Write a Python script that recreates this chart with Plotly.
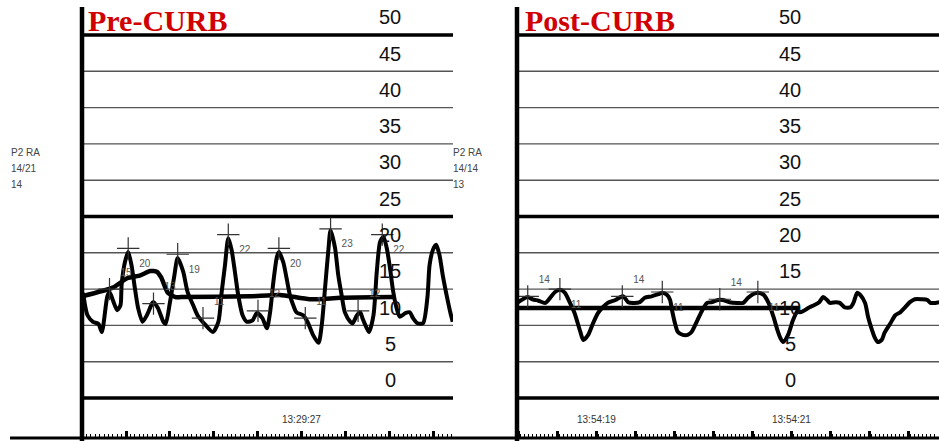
import plotly.graph_objects as go

# ---------------- data (time in s, pressure in mmHg) ----------------
pre_t = [0.01, 0.05, 0.10, 0.15, 0.18, 0.23, 0.25, 0.28, 0.32, 0.35, 0.36, 0.39, 0.42, 0.45, 0.48,
         0.51, 0.55, 0.59, 0.64, 0.65, 0.69, 0.74, 0.76, 0.80, 0.84, 0.87, 0.92, 0.96, 1.01, 1.05,
         1.12, 1.19, 1.24, 1.27, 1.30, 1.33, 1.36, 1.39, 1.42, 1.46, 1.50, 1.55, 1.59, 1.64, 1.68,
         1.71, 1.74, 1.77, 1.79, 1.83, 1.86, 1.89, 1.92, 1.95, 2.01, 2.05, 2.10, 2.15, 2.18, 2.21,
         2.24, 2.26, 2.30, 2.33, 2.36, 2.39, 2.44, 2.46, 2.50, 2.53, 2.55, 2.59, 2.61, 2.65, 2.68,
         2.71, 2.74, 2.77, 2.80, 2.83, 2.86, 2.89, 2.94, 2.98, 3.01, 3.05, 3.10, 3.14, 3.16, 3.19,
         3.22, 3.25, 3.28, 3.32, 3.35, 3.37]
pre_p = [14.5, 11.4, 10.5, 10.2, 9.1, 14.0, 14.6, 13.5, 12.1, 12.8, 15.6, 18.7, 20.1, 18.3, 15.2,
         12.4, 10.5, 11.4, 13.1, 13.2, 12.4, 10.5, 10.2, 13.2, 16.9, 19.3, 17.4, 14.6, 12.8, 11.4,
         10.1, 9.1, 10.5, 14.6, 18.3, 22.0, 20.4, 17.4, 14.2, 11.4, 10.5, 10.7, 11.7, 11.0, 9.6,
         11.8, 16.0, 19.3, 20.1, 18.7, 16.5, 14.2, 12.8, 11.8, 11.4, 10.5, 8.7, 7.6, 10.1, 15.2,
         20.4, 23.1, 20.7, 16.9, 14.2, 11.8, 10.5, 10.3, 11.4, 11.8, 11.0, 9.6, 9.1, 11.4, 17.4,
         21.5, 22.2, 20.7, 17.9, 14.6, 12.4, 11.2, 11.7, 11.8, 11.0, 10.3, 10.3, 13.8, 18.3, 20.4,
         21.1, 19.7, 16.9, 13.8, 11.7, 10.5]

pre_mean_t = [0.00, 0.28, 0.41, 0.53, 0.62, 0.68, 0.72, 0.78, 0.85, 0.90, 1.53, 1.80, 2.07, 2.35, 2.83]
pre_mean_p = [14.0, 15.2, 16.5, 16.9, 17.5, 17.4, 16.6, 14.5, 13.9, 13.9, 14.0, 14.2, 13.6, 13.8, 13.9]

pre_mark_t = [0.25, 0.42, 0.65, 0.87, 1.10, 1.33, 1.60, 1.79, 2.03, 2.26, 2.51, 2.73]
pre_mark_p = [15, 20.6, 13, 19.8, 11, 22.5, 12, 20.6, 11, 23.3, 12, 22.5]
pre_mark_lbl = ["15", "20", "13", "19", "11", "22", "12", "20", "11", "23", "12", "22"]

post_t = [0.01, 0.06, 0.11, 0.16, 0.22, 0.29, 0.34, 0.39, 0.44, 0.49, 0.54, 0.59, 0.65, 0.68, 0.73,
          0.78, 0.83, 0.88, 0.93, 1.01, 1.06, 1.09, 1.14, 1.19, 1.26, 1.31, 1.38, 1.45, 1.49, 1.54,
          1.57, 1.59, 1.62, 1.65, 1.70, 1.75, 1.79, 1.85, 1.90, 1.95, 2.00, 2.06, 2.11, 2.18, 2.26,
          2.32, 2.37, 2.42, 2.47, 2.53, 2.58, 2.63, 2.67, 2.70, 2.73, 2.78, 2.83, 2.88, 2.90, 2.95,
          3.00, 3.05, 3.10, 3.14, 3.18, 3.21, 3.27, 3.31, 3.36, 3.42, 3.45, 3.49, 3.52, 3.57, 3.60,
          3.64, 3.67, 3.70, 3.74, 3.77, 3.83, 3.88, 3.93, 3.98, 4.03, 4.08, 4.15, 4.21, 4.24, 4.29,
          4.33]
post_p = [13.2, 13.6, 13.9, 13.6, 13.4, 13.1, 13.8, 14.6, 14.9, 14.5, 13.2, 11.7, 9.1, 8.0, 8.7,
          10.3, 11.7, 12.5, 13.1, 13.5, 13.9, 14.0, 13.2, 13.1, 13.2, 13.8, 14.0, 14.3, 14.5, 14.2,
          13.5, 12.1, 10.3, 9.1, 8.7, 8.7, 9.1, 10.7, 12.1, 13.1, 13.2, 13.5, 13.5, 13.2, 13.1,
          13.1, 13.8, 14.3, 14.5, 14.2, 13.1, 11.2, 9.4, 8.3, 7.7, 8.7, 10.7, 12.1, 11.8, 12.1,
          12.5, 12.8, 13.2, 13.9, 13.5, 13.1, 13.2, 13.1, 12.5, 12.5, 13.1, 14.5, 14.2, 13.1, 11.2,
          9.4, 8.3, 7.7, 8.0, 9.0, 10.3, 11.4, 11.8, 12.5, 13.2, 13.6, 13.6, 13.5, 13.1, 13.1,
          13.2]

post_mean_t = [0.00, 2.90]
post_mean_p = [12.4, 12.4]

post_mark_t = [0.11, 0.44, 1.08, 1.49, 2.08, 2.47]
post_mark_p = [14.0, 15.0, 14.0, 14.6, 13.6, 14.6]
post_mark_lbl = ["14", "11", "14", "11", "14", "11"]

grid_levels = [0, 5, 10, 15, 20, 25, 30, 35, 40, 45, 50]
thick_levels = [0, 25, 50]

pre_title = "Pre-CURB"
post_title = "Post-CURB"
pre_side = ["P2 RA", "14/21", "14"]
post_side = ["P2 RA", "14/14", "13"]
pre_stamp_t = [2.0]
pre_stamp_lbl = ["13:29:27"]
post_stamp_t = [0.82, 2.82]
post_stamp_lbl = ["13:54:19", "13:54:21"]

# ---------------- layout geometry ----------------
W, H = 939, 441
B = 4
PH = H - B
def px(x):
    return x / W
def py(y):
    return (H - B - y) / PH

NARROW = "Liberation Sans Narrow, Arial Narrow, Liberation Sans, Arial, sans-serif"

fig = go.Figure()

wave_line = dict(color="black", width=4, shape="spline", smoothing=0.7)
fig.add_trace(go.Scatter(x=pre_t, y=pre_p, mode="lines", line=wave_line, xaxis="x", yaxis="y",
                         hoverinfo="skip", showlegend=False))
fig.add_trace(go.Scatter(x=pre_mean_t, y=pre_mean_p, mode="lines",
                         line=dict(color="black", width=4.5, shape="spline", smoothing=0.5),
                         xaxis="x", yaxis="y", hoverinfo="skip", showlegend=False))
fig.add_trace(go.Scatter(x=post_t, y=post_p, mode="lines", line=wave_line, xaxis="x2", yaxis="y",
                         hoverinfo="skip", showlegend=False))
fig.add_trace(go.Scatter(x=post_mean_t, y=post_mean_p, mode="lines", line=dict(color="black", width=4.5),
                         xaxis="x2", yaxis="y", hoverinfo="skip", showlegend=False))

pre_pos = ["top right" if i % 2 == 0 else "bottom right" for i in range(len(pre_mark_t))]
post_pos = ["top right" if i % 2 == 0 else "bottom right" for i in range(len(post_mark_t))]
mk = dict(symbol="cross-thin", size=16, line=dict(color="#333", width=1.2), color="#333")
fig.add_trace(go.Scatter(x=pre_mark_t, y=pre_mark_p, mode="markers+text", marker=mk,
                         text=pre_mark_lbl, textposition=pre_pos,
                         textfont=dict(family=NARROW, size=10, color="#555"),
                         xaxis="x", yaxis="y", hoverinfo="skip", showlegend=False))
fig.add_trace(go.Scatter(x=post_mark_t, y=post_mark_p, mode="markers+text", marker=mk,
                         text=post_mark_lbl, textposition=post_pos,
                         textfont=dict(family=NARROW, size=10, color="#555"),
                         xaxis="x2", yaxis="y", hoverinfo="skip", showlegend=False))

shapes = []
for xr in ["x domain", "x2 domain"]:
    for lv in grid_levels:
        thick = lv in thick_levels
        shapes.append(dict(type="line", xref=xr, yref="y", x0=0, x1=1, y0=lv, y1=lv,
                           line=dict(color="black" if thick else "#555",
                                     width=3.5 if thick else 1.4), layer="below"))
# vertical axis lines
for xp in [82, 517]:
    shapes.append(dict(type="line", xref="paper", yref="paper", x0=px(xp), x1=px(xp),
                       y0=py(7), y1=py(441), line=dict(color="black", width=4.5)))
# baseline
shapes.append(dict(type="line", xref="paper", yref="paper", x0=px(10), x1=1.0,
                   y0=py(438), y1=py(438), line=dict(color="black", width=3)))

annotations = []
for lv in grid_levels:
    for xc in [390, 790]:
        annotations.append(dict(text=str(lv), xref="paper", yref="y", x=px(xc), y=lv + 2.45,
                                showarrow=False, xanchor="center", yanchor="middle",
                                font=dict(family=NARROW, size=20, color="#111")))
annotations.append(dict(text="<b>" + pre_title + "</b>", xref="paper", yref="paper", x=px(86),
                        y=py(21), xanchor="left", yanchor="middle", showarrow=False,
                        font=dict(family="Liberation Serif, Times New Roman, serif", size=30, color="#d10000")))
annotations.append(dict(text="<b>" + post_title + "</b>", xref="paper", yref="paper", x=px(523),
                        y=py(21), xanchor="left", yanchor="middle", showarrow=False,
                        font=dict(family="Liberation Serif, Times New Roman, serif", size=30, color="#d10000")))
for i, s in enumerate(pre_side):
    annotations.append(dict(text=s, xref="paper", yref="paper", x=px(9), y=py(152 + 16 * i),
                            xanchor="left", yanchor="middle", showarrow=False,
                            font=dict(family=NARROW, size=10, color="#444")))
for i, s in enumerate(post_side):
    annotations.append(dict(text=s, xref="paper", yref="paper", x=px(451), y=py(152 + 16 * i),
                            xanchor="left", yanchor="middle", showarrow=False,
                            font=dict(family=NARROW, size=10, color="#444")))
for t, s in zip(pre_stamp_t, pre_stamp_lbl):
    annotations.append(dict(text=s, xref="x", yref="paper", x=t, y=py(419), showarrow=False,
                            xanchor="center", yanchor="middle",
                            font=dict(family=NARROW, size=10, color="#333")))
for t, s in zip(post_stamp_t, post_stamp_lbl):
    annotations.append(dict(text=s, xref="x2", yref="paper", x=t, y=py(419), showarrow=False,
                            xanchor="center", yanchor="middle",
                            font=dict(family=NARROW, size=10, color="#333")))

axis_common = dict(showgrid=False, zeroline=False, showline=False, showticklabels=False,
                   ticks="inside", ticklen=6, tickwidth=3, tickcolor="black", dtick=0.4,
                   anchor="y", fixedrange=True,
                   minor=dict(ticks="inside", ticklen=3, tickwidth=1, tickcolor="black", dtick=0.04))
fig.update_layout(
    width=W, height=H,
    margin=dict(l=0, r=0, t=0, b=B),
    paper_bgcolor="white", plot_bgcolor="white",
    xaxis=dict(domain=[px(82), px(453)], range=[0, 3.373], tick0=0, **axis_common),
    xaxis2=dict(domain=[px(517), 1.0], range=[0, 4.328], tick0=0.02, **axis_common),
    yaxis=dict(domain=[0, 1], range=[-5.37, 54.82], visible=False, fixedrange=True),
    shapes=shapes, annotations=annotations, showlegend=False,
)
fig.update_xaxes(minor_tick0=0)

fig.write_html("out.html", config={"displayModeBar": False},
               post_script="document.body.style.margin='0';document.body.style.overflow='hidden';")
